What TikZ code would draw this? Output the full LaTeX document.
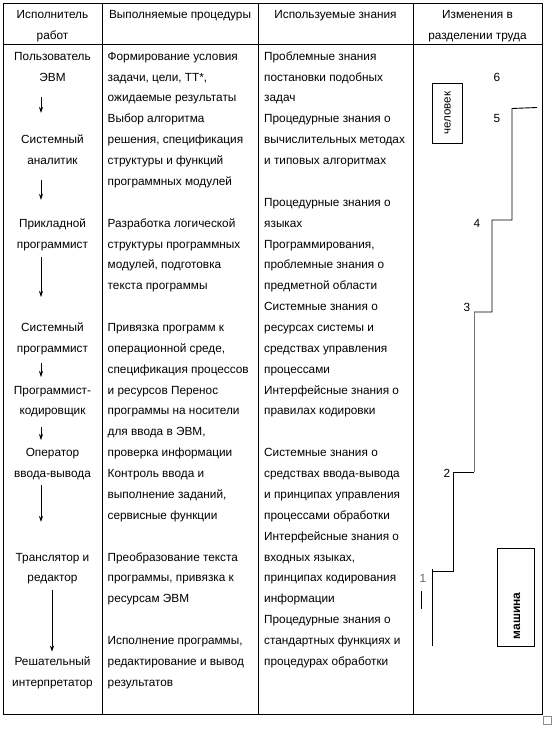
\documentclass[tikz,border=0pt]{standalone}
\usepackage{fontspec}
\setmainfont{Liberation Sans}
\usetikzlibrary{arrows.meta}
\newcommand\mystrut{\rule[-5pt]{0pt}{20pt}}
\begin{document}
\begin{tikzpicture}[x=1pt,y=-1pt,
  txt/.style={inner sep=0pt, font=\fontsize{11.8}{20.87}\selectfont},
  rolebox/.style={txt, align=center, anchor=north},
  colbox/.style={txt, align=left, anchor=north west},
  headbox/.style={txt, align=center, anchor=north},
  arr/.style={-{Stealth[length=6pt,width=4pt]}, line width=0.8pt},
  gridline/.style={line width=0.9pt},
  stepline/.style={line width=0.9pt},
  numlabel/.style={inner sep=0pt, font=\fontsize{11.8}{14}\selectfont},
  sidebox/.style={draw, line width=0.9pt, inner sep=0pt},
]
\useasboundingbox (0,0) rectangle (559,738);
% table frame
\draw[gridline] (3,3.3) rectangle (542,714.5);
\draw[gridline] (3,44) -- (542,44);
\draw[gridline] (102,3.3) -- (102,714.5);
\draw[gridline] (258,3.3) -- (258,714.5);
\draw[gridline] (413,3.3) -- (413,714.5);
\draw[black!45, line width=0.6pt] (543.5,716) rectangle (551.5,724);
% headers
\node[headbox] (h1) at (52.5,3.26) {\mystrut Исполнитель\\\mystrut работ};
\node[headbox] (h2) at (180,3.26) {\mystrut Выполняемые процедуры};
\node[headbox] (h3) at (335.5,3.26) {\mystrut Используемые знания};
\node[headbox] (h4) at (477.5,3.26) {\mystrut Изменения в\\\mystrut разделении труда};
% roles
\node[rolebox] (user) at (52.5,45) {\mystrut Пользователь\\\mystrut ЭВМ};
\node[rolebox] (analyst) at (52.5,128.48) {\mystrut Системный\\\mystrut аналитик};
\node[rolebox] (applied) at (52.5,211.96) {\mystrut Прикладной\\\mystrut программист};
\node[rolebox] (sysprog) at (52.5,316.31) {\mystrut Системный\\\mystrut программист};
\node[rolebox] (coder) at (52.5,378.92) {\mystrut Программист-\\\mystrut кодировщик};
\node[rolebox] (operator) at (52.5,441.53) {\mystrut Оператор\\\mystrut ввода-вывода};
\node[rolebox] (transl) at (52.5,545.88) {\mystrut Транслятор и\\\mystrut редактор};
\node[rolebox] (interp) at (52.5,650.23) {\mystrut Решательный\\\mystrut интерпретатор};
\coordinate (ax) at (41,0);
\coordinate (bx) at (52,0);
\draw[arr, shorten <=11.1pt, shorten >=15.5pt] (user.south -| ax) -- (analyst.north -| ax);
\draw[arr, shorten <=10.6pt, shorten >=12pt] (analyst.south -| ax) -- (applied.north -| ax);
\draw[arr, shorten <=4.2pt, shorten >=19.3pt] (applied.south -| ax) -- (sysprog.north -| ax);
\draw[arr, shorten <=5.8pt, shorten >=1.9pt] (sysprog.south -| ax) -- (coder.north -| ax);
\draw[arr, shorten <=7.2pt, shorten >=1.5pt] (coder.south -| ax) -- (operator.north -| ax);
\draw[arr, shorten <=2.6pt, shorten >=23.9pt] (operator.south -| ax) -- (transl.north -| ax);
\draw[arr, shorten <=3.2pt, shorten >=-1.5pt] (transl.south -| bx) -- (interp.north -| bx);
% procedures
\node[colbox] (proc) at (107.5,45) {\mystrut Формирование условия\\
\mystrut задачи, цели, ТТ*,\\
\mystrut ожидаемые результаты\\
\mystrut Выбор алгоритма\\
\mystrut решения, спецификация\\
\mystrut структуры и функций\\
\mystrut программных модулей\\
\mystrut \\
\mystrut Разработка логической\\
\mystrut структуры программных\\
\mystrut модулей, подготовка\\
\mystrut текста программы\\
\mystrut \\
\mystrut Привязка программ к\\
\mystrut операционной среде,\\
\mystrut спецификация процессов\\
\mystrut и ресурсов Перенос\\
\mystrut программы на носители\\
\mystrut для ввода в ЭВМ,\\
\mystrut проверка информации\\
\mystrut Контроль ввода и\\
\mystrut выполнение заданий,\\
\mystrut сервисные функции\\
\mystrut \\
\mystrut Преобразование текста\\
\mystrut программы, привязка к\\
\mystrut ресурсам ЭВМ\\
\mystrut \\
\mystrut Исполнение программы,\\
\mystrut редактирование и вывод\\
\mystrut результатов};
% knowledge
\node[colbox] (know) at (264,45) {\mystrut Проблемные знания\\
\mystrut постановки подобных\\
\mystrut задач\\
\mystrut Процедурные знания о\\
\mystrut вычислительных методах\\
\mystrut и типовых алгоритмах\\
\mystrut \\
\mystrut Процедурные знания о\\
\mystrut языках\\
\mystrut Программирования,\\
\mystrut проблемные знания о\\
\mystrut предметной области\\
\mystrut Системные знания о\\
\mystrut ресурсах системы и\\
\mystrut средствах управления\\
\mystrut процессами\\
\mystrut Интерфейсные знания о\\
\mystrut правилах кодировки\\
\mystrut \\
\mystrut Системные знания о\\
\mystrut средствах ввода-вывода\\
\mystrut и принципах управления\\
\mystrut процессами обработки\\
\mystrut Интерфейсные знания о\\
\mystrut входных языках,\\
\mystrut принципах кодирования\\
\mystrut информации\\
\mystrut Процедурные знания о\\
\mystrut стандартных функциях и\\
\mystrut процедурах обработки};
% division of labour
\node[sidebox, rotate=90, minimum width=60pt, minimum height=30.5pt, font=\fontsize{11.5}{14}\selectfont] (human) at (447.5,113) {человек};
\node[sidebox, minimum width=37pt, minimum height=98pt] (mbox) at (515.5,597) {};
\node[inner sep=0pt, rotate=90, font=\fontsize{12}{14}\selectfont\bfseries] (mtext) at (517,616) {машина};
\node[numlabel] (l6) at (497,77) {6};
\node[numlabel] (l5) at (497,118) {5};
\node[numlabel] (l4) at (477,223) {4};
\node[numlabel] (l3) at (467,307) {3};
\node[numlabel] (l2) at (447,473) {2};
\node[numlabel, text=black!60] (l1) at (423,578) {1};
\draw[stepline] (537,107.5) -- (512,108.5) -- (512,220) -- (492,220) -- (492,312) -- (474,312);
\draw[stepline, black!55] (474,312) -- (474,472);
\draw[stepline] (474,472) -- (453,472) -- (453,571) -- (432,571);
\draw[stepline] (432,568.5) -- (432,646);
\draw[stepline] (421,591) -- (421,609);
\end{tikzpicture}
\end{document}
